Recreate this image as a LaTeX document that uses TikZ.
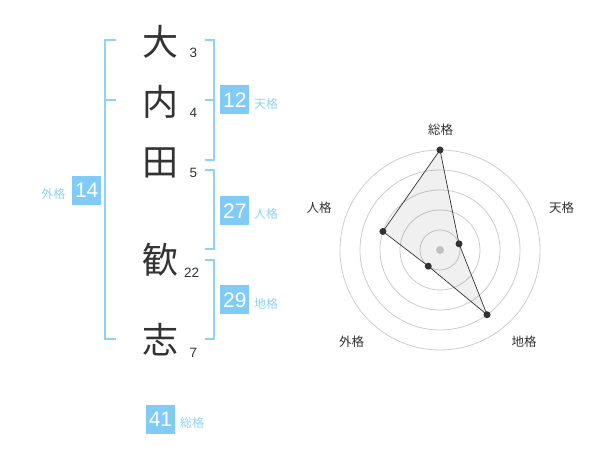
\documentclass[tikz,border=0pt]{standalone}
\usepackage{fontspec}
\usetikzlibrary{calc}
\setmainfont{Liberation Sans}
\newfontfamily\cjk{Noto Sans CJK JP}
\definecolor{kblue}{HTML}{80CCF7}
\definecolor{lblue}{HTML}{8ED2F8}
\definecolor{ink}{HTML}{333333}
\definecolor{ring}{HTML}{CCCCCC}
\begin{document}
\begin{tikzpicture}[x=1pt,y=-1pt,
  kanji/.style={font=\cjk\fontsize{36}{36}\selectfont, text=ink, inner sep=0pt, anchor=base},
  stroke/.style={font=\fontsize{13.5}{13.5}\selectfont, text=ink, inner sep=0pt, anchor=base west},
  numbox/.style={fill=kblue, text=white, minimum width=29pt, minimum height=29pt, inner sep=0pt, font=\fontsize{21}{21}\selectfont},
  kaku/.style={font=\cjk\fontsize{12}{12}\selectfont, text=lblue, inner sep=0pt},
  brk/.style={draw=lblue, line width=2pt},
  rlabel/.style={font=\cjk\fontsize{12.5}{12.5}\selectfont, text=ink, inner sep=0pt},
  ringc/.style={draw=ring, line width=0.8pt},
  dot/.style={circle, fill=ink, inner sep=0pt, minimum size=7pt}]
\useasboundingbox (0,0) rectangle (600,470);
% kanji
\node[kanji] (k1) at (160,55.4) {大};
\node[kanji] (k2) at (160,115.4) {内};
\node[kanji] (k3) at (160,175.4) {田};
\node[kanji] (k4) at (160,273.7) {歓};
\node[kanji] (k5) at (160,353.7) {志};
% stroke counts
\node[stroke] (s1) at (189.5,57.5) {3};
\node[stroke] (s2) at (189.5,117.5) {4};
\node[stroke] (s3) at (189.5,177.5) {5};
\node[stroke] (s4) at (184,277.5) {22};
\node[stroke] (s5) at (189.5,357.5) {7};
% brackets
\draw[brk] (115.7,40) -- (105,40) -- (105,339.3) -- (115.7,339.3);
\draw[brk] (105,100) -- (115.7,100);
\draw[brk] (205,40) -- (214.3,40) -- (214.3,160) -- (205,160);
\draw[brk] (205,100) -- (214.3,100);
\draw[brk] (205,170) -- (214.3,170) -- (214.3,249.3) -- (205,249.3);
\draw[brk] (205,260) -- (214.3,260) -- (214.3,339.3) -- (205,339.3);
% boxes
\node[numbox] (b12) at (234.8,100) {12};
\node[kaku, anchor=west] (l12) at (254,104) {天格};
\node[numbox] (b27) at (234.8,211) {27};
\node[kaku, anchor=west] (l27) at (254,214) {人格};
\node[numbox] (b29) at (234.8,300) {29};
\node[kaku, anchor=west] (l29) at (254,304) {地格};
\node[numbox] (b14) at (86.7,190.5) {14};
\node[kaku, anchor=east] (l14) at (65.5,194) {外格};
\node[numbox] (b41) at (160.5,419.5) {41};
\node[kaku, anchor=west] (l41) at (180,423) {総格};
% radar
\coordinate (c) at (440,250);
\foreach \r in {20,40,60,80,100} \draw[ringc] (c) circle[radius=\r];
\fill[ring] (c) circle[radius=4];
\coordinate (p1) at ($(c)+(-90:100)$);
\coordinate (p2) at ($(c)+(-18:20)$);
\coordinate (p3) at ($(c)+(54:80)$);
\coordinate (p4) at ($(c)+(126:20)$);
\coordinate (p5) at ($(c)+(198:60)$);
\filldraw[fill=black, fill opacity=0.06, draw=ink, line width=0.7pt] (p1) -- (p2) -- (p3) -- (p4) -- (p5) -- cycle;
\foreach \p in {p1,p2,p3,p4,p5} \node[dot] (d\p) at (\p) {};
\node[rlabel] (r1) at (440.7,130) {総格};
\node[rlabel] (r2) at (561.7,208) {天格};
\node[rlabel] (r3) at (524,341.7) {地格};
\node[rlabel] (r4) at (351.7,341.7) {外格};
\node[rlabel] (r5) at (319,208) {人格};
\end{tikzpicture}
\end{document}
